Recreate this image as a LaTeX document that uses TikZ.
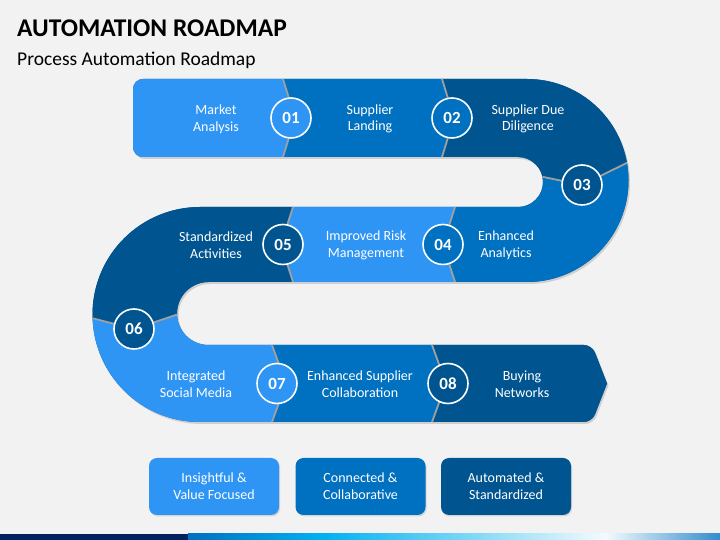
\documentclass[tikz,border=0pt]{standalone}
\usepackage{fontspec}
\setmainfont{Carlito}
\usetikzlibrary{shadows}
\definecolor{bggray}{HTML}{F2F2F2}
\definecolor{roadlight}{HTML}{2E95F5}
\definecolor{roadmid}{HTML}{0070C0}
\definecolor{roaddark}{HTML}{005591}
\definecolor{roadsep}{HTML}{A0A0A0}
\definecolor{barnavy}{HTML}{002060}
\definecolor{barcyan}{HTML}{00B0F0}
\begin{document}
\begin{tikzpicture}[x=1pt, y=1pt,
  txt/.style={text=white, align=center, font=\fontsize{14}{16.7}\selectfont},
  num/.style={circle, draw=white, line width=1.6pt, minimum size=40pt, inner sep=0pt,
    text=white, font=\bfseries\fontsize{17}{17}\selectfont},
  sep/.style={draw=roadsep, line width=1.8pt},
  box/.style={rounded corners=8pt, minimum width=130pt, minimum height=57pt,
    text=white, align=center, font=\fontsize{14}{16.7}\selectfont,
    drop shadow={shadow xshift=1pt, shadow yshift=-1.5pt, opacity=0.25}}]
  % --- background and title ---
  \fill[bggray] (0,0) rectangle (720,540);
  \node[anchor=base west, inner xsep=0pt, font=\bfseries\fontsize{25.5}{30}\selectfont] (title) at (17,503) {AUTOMATION ROADMAP};
  \node[anchor=base west, inner xsep=0pt, font=\fontsize{19.5}{23}\selectfont] (subtitle) at (17,474) {Process Automation Roadmap};

  % bend centres
  \coordinate (ro) at (527,359.5);
  \coordinate (ri) at (518,358);
  \coordinate (lo) at (200,225.5);
  \coordinate (li) at (208.5,226.5);
  \coordinate (r3o) at ([shift={(10:101.5)}]ro);
  \coordinate (r3i) at ([shift={(12:25)}]ri);
  \coordinate (l6o) at ([shift={(182:107.5)}]lo);
  \coordinate (l6i) at ([shift={(182:31.5)}]li);

  % --- road outline (shadow) ---
  \fill[roaddark, drop shadow={shadow xshift=1.5pt, shadow yshift=-2pt, opacity=0.3}]
    (283,383) [rounded corners=10pt] -- (133,383) -- (133,461) [sharp corners] -- (527,461)
    arc[start angle=90, end angle=-90, radius=101.5] -- (208.5,258)
    arc[start angle=90, end angle=270, radius=31.5]
    [rounded corners=8pt] -- (592,195) [sharp corners] -- (607,156.5)
    [rounded corners=8pt] -- (592,118) [sharp corners] -- (200,118)
    arc[start angle=270, end angle=90, radius=107.5] -- (518,333)
    arc[start angle=-90, end angle=90, radius=25] -- cycle;

  % --- segments ---
  \fill[roadlight] (295,422) -- (283,383) [rounded corners=10pt] -- (133,383) -- (133,461)
    [sharp corners] -- (283,461) -- cycle;
  \fill[roadmid] (283,461) -- (442,461) -- (454,422) -- (442,383) -- (283,383) -- (295,422) -- cycle;
  \fill[roaddark] (454,422) -- (442,461) -- (527,461) arc[start angle=90, end angle=10, radius=101.5]
    -- (582,355) -- (r3i) arc[start angle=12, end angle=90, radius=25] -- (442,383) -- cycle;
  \fill[roadmid] (r3o) arc[start angle=10, end angle=-90, radius=101.5] -- (455,258) -- (443,295.5)
    -- (455,333) -- (518,333) arc[start angle=-90, end angle=12, radius=25] -- (582,355) -- cycle;
  \fill[roadlight] (455,333) -- (443,295.5) -- (455,258) -- (293,258) -- (281,295.5) -- (293,333) -- cycle;
  \fill[roaddark] (281,295.5) -- (293,333) -- (200,333) arc[start angle=90, end angle=182, radius=107.5]
    -- (134,211) -- (l6i) arc[start angle=182, end angle=90, radius=31.5] -- (293,258) -- cycle;
  \fill[roadlight] (l6o) arc[start angle=182, end angle=270, radius=107.5] -- (272,118) -- (286,156.5)
    -- (272,195) -- (208.5,195) arc[start angle=270, end angle=182, radius=31.5] -- (134,211) -- cycle;
  \fill[roadmid] (272,118) -- (432,118) -- (446,156.5) -- (432,195) -- (272,195) -- (286,156.5) -- cycle;
  \fill[roaddark] (432,118) -- (446,156.5) -- (432,195) [rounded corners=8pt] -- (592,195)
    [sharp corners] -- (607,156.5) [rounded corners=8pt] -- (592,118) [sharp corners] -- cycle;

  % separators
  \draw[sep] (283,461) -- (295,422) -- (283,383);
  \draw[sep] (442,461) -- (454,422) -- (442,383);
  \draw[sep] (r3o) -- (582,355) -- (r3i);
  \draw[sep] (455,333) -- (443,295.5) -- (455,258);
  \draw[sep] (293,333) -- (281,295.5) -- (293,258);
  \draw[sep] (l6o) -- (134,211) -- (l6i);
  \draw[sep] (272,195) -- (286,156.5) -- (272,118);
  \draw[sep] (432,195) -- (446,156.5) -- (432,118);

  % --- step numbers ---
  \foreach \n/\p/\c in {01/{291,422}/roadlight, 02/{452,422}/roadmid, 03/{582,355}/roaddark,
      04/{443,295.5}/roadmid, 05/{283,295.5}/roaddark, 06/{134,211}/roaddark,
      07/{277,156.5}/roadlight, 08/{448,156.5}/roaddark}
    \node[num, fill=\c] (c\n) at (\p) {\n};

  % --- step texts ---
  \foreach \i/\p/\t in {1/{216,421}/{Market\\Analysis}, 2/{370,421}/{Supplier\\Landing},
      3/{528,421}/{Supplier Due\\Diligence}, 4/{506,294.5}/{Enhanced\\Analytics},
      5/{366,294.5}/{Improved Risk\\Management}, 6/{216,294.5}/{Standardized\\Activities},
      7/{196,155.5}/{Integrated\\Social Media}, 8/{360,155.5}/{Enhanced Supplier\\Collaboration},
      9/{522,155.5}/{Buying\\Networks}}
    \node[txt] (s\i) at (\p) {\t};

  % --- bottom boxes ---
  \node[box, fill=roadlight] (b1) at (214,53.5) {Insightful \&\\Value Focused};
  \node[box, fill=roadmid] (b2) at (360.5,53.5) {Connected \&\\Collaborative};
  \node[box, fill=roaddark] (b3) at (506,53.5) {Automated \&\\Standardized};

  % bottom bar
  \fill[barnavy] (0,0) rectangle (188,6);
  \shade[left color=roadmid, right color=barcyan] (188,0) rectangle (321,6);
  \shade[left color=barcyan, right color=white!95!barcyan] (321,0) rectangle (606,6);
  \shade[left color=white!95!barcyan, right color=roadmid!80] (606,0) rectangle (720,6);
\end{tikzpicture}
\end{document}
